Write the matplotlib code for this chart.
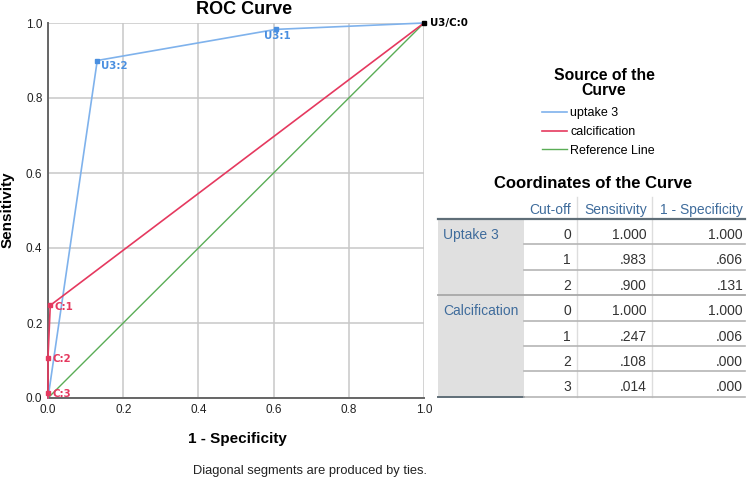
import matplotlib
matplotlib.use("Agg")
import matplotlib.pyplot as plt

plt.rcParams['font.family'] = ['Liberation Sans', 'DejaVu Sans']

# ---- data ----
uptake_fpr = [0.0, 0.131, 0.606, 1.0]
uptake_tpr = [0.0, 0.900, 0.983, 1.0]
uptake_pts = [(0.131, 0.900, "U3:2"), (0.606, 0.983, "U3:1")]

calc_fpr = [0.0, 0.0, 0.0, 0.006, 1.0]
calc_tpr = [0.0, 0.014, 0.108, 0.247, 1.0]
calc_pts = [(0.006, 0.247, "C:1"), (0.0, 0.108, "C:2"), (0.0, 0.014, "C:3")]

ref_x = [0.0, 1.0]
ref_y = [0.0, 1.0]

ticks = [0.0, 0.2, 0.4, 0.6, 0.8, 1.0]
tick_labels = ["0.0", "0.2", "0.4", "0.6", "0.8", "1.0"]

legend_labels = ["uptake 3", "calcification", "Reference Line"]

table_cols = ["Cut-off", "Sensitivity", "1 - Specificity"]
table_groups = ["Uptake 3", "Calcification"]
group_sizes = [3, 4]
cutoffs = ["0", "1", "2", "0", "1", "2", "3"]
sens = ["1.000", ".983", ".900", "1.000", ".247", ".108", ".014"]
spec1 = ["1.000", ".606", ".131", "1.000", ".006", ".000", ".000"]

BLUE = "#7fb2ec"
BLUE_M = "#4a8fe0"
RED = "#e5395f"
GREEN = "#5aad56"
PT_FONT = ['DejaVu Sans']

W, H = 749, 479
fig = plt.figure(figsize=(W / 100, H / 100), dpi=100)

def fx(x):
    return x / W

def fy(y):
    return 1 - y / H

ax = fig.add_axes([fx(48), fy(398), fx(424) - fx(48), fy(23) - fy(398)])
ax.set_xlim(0, 1)
ax.set_ylim(0, 1)
ax.set_xticks(ticks)
ax.set_xticklabels(tick_labels)
ax.set_yticks(ticks)
ax.set_yticklabels(tick_labels)
ax.tick_params(length=0, labelsize=8.5, colors="#222222", pad=4)
ax.grid(True, color="#c8c8c8", linewidth=1.1)
ax.set_axisbelow(True)
for s in ["top", "right"]:
    ax.spines[s].set_visible(False)
for s in ["left", "bottom"]:
    ax.spines[s].set_color("#666666")
    ax.spines[s].set_linewidth(1.4)

l1, = ax.plot(uptake_fpr, uptake_tpr, color=BLUE, lw=1.2, label=legend_labels[0], zorder=3, clip_on=False)
l2, = ax.plot(calc_fpr, calc_tpr, color=RED, lw=1.2, label=legend_labels[1], zorder=3, clip_on=False)
l3, = ax.plot(ref_x, ref_y, color=GREEN, lw=1.0, label=legend_labels[2], zorder=2, clip_on=False)

for x, y, t in uptake_pts:
    ax.plot([x], [y], marker="s", ms=3.5, color=BLUE_M, zorder=4, clip_on=False)
for x, y, t in calc_pts:
    ax.plot([x], [y], marker="s", ms=3.5, color=RED, zorder=4, clip_on=False)
ax.plot([1.0], [1.0], marker="s", ms=3.5, color="black", zorder=5, clip_on=False)

PFS = 7.4
ax.annotate(uptake_pts[0][2], (uptake_pts[0][0], uptake_pts[0][1]), xytext=(3, -4),
            textcoords="offset points", fontsize=PFS, fontweight="bold", color=BLUE_M, va="center",
            family=PT_FONT)
ax.annotate(uptake_pts[1][2], (uptake_pts[1][0], uptake_pts[1][1]), xytext=(1, -5),
            textcoords="offset points", fontsize=PFS, fontweight="bold", color=BLUE_M,
            va="center", ha="center", family=PT_FONT)
for x, y, t in calc_pts:
    ax.annotate(t, (x, y), xytext=(3, -1), textcoords="offset points", fontsize=PFS,
                fontweight="bold", color=RED, va="center", family=PT_FONT)
ax.annotate("U3/C:0", (1.0, 1.0), xytext=(4, 0), textcoords="offset points", fontsize=PFS,
            fontweight="bold", color="black", va="center", annotation_clip=False, family=PT_FONT)

fig.text(fx(244), fy(9), "ROC Curve", ha="center", va="center", fontsize=13, fontweight="bold")
fig.text(fx(237), fy(439), "1 - Specificity", ha="center", va="center", fontsize=11, fontweight="bold")
fig.text(fx(8), fy(210), "Sensitivity", ha="center", va="center", fontsize=11, fontweight="bold", rotation=90)
fig.text(fx(310), fy(471), "Diagonal segments are produced by ties.", ha="center", va="center",
         fontsize=9.3, color="#222222")

# legend
fig.text(fx(604), fy(83), "Source of the\nCurve", ha="center", va="center", fontsize=11.3,
         fontweight="bold", linespacing=1.0)
fig.legend(handles=[l1, l2, l3], loc="upper left", bbox_to_anchor=(fx(542), fy(107)),
           frameon=False, fontsize=9, handlelength=2.0, handletextpad=0.25, labelspacing=0.55,
           borderaxespad=0, borderpad=0)

# table
fig.text(fx(593), fy(184), "Coordinates of the Curve", ha="center", va="center", fontsize=12,
         fontweight="bold")
HDR = "#3f6c9c"
TXT = "#333333"
FS = 10
x_left, x_grp, x_right = 438, 524, 745
col_right = [571, 647, 743]
y_top = 219
row_h = 25.4
n_rows = len(cutoffs)
y_bot = y_top + n_rows * row_h

fig.patches.append(plt.Rectangle((fx(x_left), fy(y_bot)), fx(x_grp) - fx(x_left), fy(y_top) - fy(y_bot),
                                 transform=fig.transFigure, facecolor="#e0e0e0", edgecolor="none"))
for xv in [577, 652]:
    fig.add_artist(plt.Line2D([fx(xv), fx(xv)], [fy(197), fy(y_bot)], transform=fig.transFigure,
                              color="#dddddd", lw=1.0))
for c, xr in zip(table_cols, col_right):
    fig.text(fx(xr), fy(210), c, ha="right", va="center", fontsize=FS, color=HDR)

fig.add_artist(plt.Line2D([fx(x_left), fx(x_right)], [fy(y_top), fy(y_top)], transform=fig.transFigure,
                          color="#5f6e78", lw=1.6))

r = 0
for g, n in zip(table_groups, group_sizes):
    fig.text(fx(443), fy(y_top + 16 + r * row_h), g, ha="left", va="center", fontsize=FS, color=HDR)
    for k in range(n):
        yc = y_top + 16 + r * row_h
        fig.text(fx(col_right[0]), fy(yc), cutoffs[r], ha="right", va="center", fontsize=FS, color=TXT)
        fig.text(fx(col_right[1]), fy(yc), sens[r], ha="right", va="center", fontsize=FS, color=TXT)
        fig.text(fx(col_right[2]), fy(yc), spec1[r], ha="right", va="center", fontsize=FS, color=TXT)
        r += 1
        yl = y_top + r * row_h
        if r == n_rows:
            fig.add_artist(plt.Line2D([fx(x_left), fx(x_grp)], [fy(yl), fy(yl)], transform=fig.transFigure,
                                      color="#5f6e78", lw=1.4))
            fig.add_artist(plt.Line2D([fx(x_grp), fx(x_right)], [fy(yl), fy(yl)], transform=fig.transFigure,
                                      color="#b5b5b5", lw=1.2))
        elif k == n - 1:
            fig.add_artist(plt.Line2D([fx(x_left), fx(x_right)], [fy(yl), fy(yl)], transform=fig.transFigure,
                                      color="#a8a8a8", lw=1.3))
        else:
            fig.add_artist(plt.Line2D([fx(x_grp), fx(x_right)], [fy(yl), fy(yl)], transform=fig.transFigure,
                                      color="#b5b5b5", lw=1.2))

fig.savefig("out.png", dpi=100)
